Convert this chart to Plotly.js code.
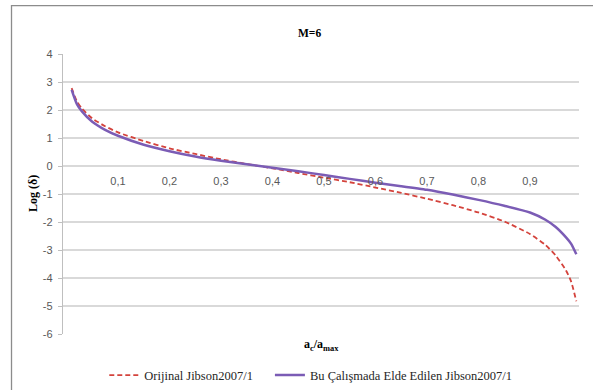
<!DOCTYPE html>
<html>
<head>
<meta charset="utf-8">
<script src="https://cdn.plot.ly/plotly-3.0.1.min.js"></script>
<style>
  html, body { margin: 0; padding: 0; background: #fff; }
  #chart { width: 593px; height: 390px; }
</style>
</head>
<body>
<div id="chart"></div>
<script>
// ac/amax ratios
const ratio = [0.01, 0.02, 0.03, 0.05, 0.075, 0.1, 0.15, 0.2, 0.25, 0.3, 0.35, 0.4, 0.45,
               0.5, 0.55, 0.6, 0.65, 0.7, 0.75, 0.8, 0.85, 0.9, 0.93, 0.95, 0.97, 0.98, 0.99];

// Log(δ) – original Jibson (2007) model 1, M=6
const logOriginal = [2.78, 2.32, 2.05, 1.70, 1.42, 1.20, 0.89, 0.63, 0.43, 0.24, 0.07, -0.08, -0.25,
                     -0.42, -0.58, -0.77, -0.96, -1.17, -1.40, -1.66, -1.98, -2.43, -2.82, -3.20, -3.73, -4.13, -4.83];

// Log(δ) – values obtained in this study
const logThisStudy = [2.72, 2.22, 1.95, 1.58, 1.29, 1.08, 0.76, 0.53, 0.34, 0.19, 0.06, -0.06, -0.19,
                      -0.32, -0.46, -0.60, -0.72, -0.85, -1.02, -1.21, -1.42, -1.66, -1.92, -2.18, -2.55, -2.78, -3.15];

const xTickVals = [0.1, 0.2, 0.3, 0.4, 0.5, 0.6, 0.7, 0.8, 0.9];
const xTickText = ['0,1', '0,2', '0,3', '0,4', '0,5', '0,6', '0,7', '0,8', '0,9'];
const yTickVals = [-6, -5, -4, -3, -2, -1, 0, 1, 2, 3, 4];
const yTickText = ['-6', '-5', '-4', '-3', '-2', '-1', '0', '1', '2', '3', '4'];

const serif = 'Liberation Serif, Times New Roman, serif';
const sans = 'Liberation Sans, Arial, sans-serif';
const legendFont = { family: serif, size: 12.5, color: '#262626' };

const traces = [
  {
    x: ratio, y: logOriginal, type: 'scatter', mode: 'lines',
    name: 'Orijinal Jibson2007/1', legend: 'legend',
    line: { color: '#D4433C', width: 1.8, dash: '5px,3px', shape: 'spline', smoothing: 0.6 }
  },
  {
    x: ratio, y: logThisStudy, type: 'scatter', mode: 'lines',
    name: 'Bu Çalışmada Elde Edilen Jibson2007/1', legend: 'legend2',
    line: { color: '#7B5CB5', width: 2.5, shape: 'spline', smoothing: 0.6 }
  }
];

const layout = {
  width: 593, height: 390,
  margin: { l: 63, r: 14, t: 54, b: 56, autoexpand: false },
  paper_bgcolor: '#fff', plot_bgcolor: '#fff',
  showlegend: true,
  legend: {
    orientation: 'h', x: 0.08, y: -0.148, xanchor: 'left', yanchor: 'middle',
    font: legendFont, itemwidth: 30
  },
  legend2: {
    orientation: 'h', x: 0.401, y: -0.148, xanchor: 'left', yanchor: 'middle',
    font: legendFont, itemwidth: 30
  },
  xaxis: {
    range: [-0.0068, 0.9952],
    anchor: 'free', position: 0.5964,
    tickvals: xTickVals, ticktext: xTickText,
    showgrid: false, zeroline: false, showline: false, ticks: '',
    tickfont: { family: sans, size: 11, color: '#595959' },
    ticklabelstandoff: 6
  },
  yaxis: {
    range: [-6, 4], tickvals: yTickVals, ticktext: yTickText,
    showgrid: true, gridcolor: '#d9d9d9', gridwidth: 1.3,
    zeroline: false,
    showline: true, linecolor: '#bfbfbf', linewidth: 1.3,
    ticks: 'outside', ticklen: 4, tickcolor: '#bfbfbf',
    tickfont: { family: sans, size: 11, color: '#595959' },
    ticklabelstandoff: 3
  },
  annotations: [
    { text: '<b>M=6</b>', xref: 'paper', yref: 'paper', x: 0.477, y: 1.075,
      xanchor: 'center', yanchor: 'middle',
      showarrow: false, font: { family: serif, size: 11.5, color: '#000' } },
    { text: '<b>a<sub>c</sub>/a<sub>max</sub></b>', xref: 'paper', yref: 'paper', x: 0.5, y: -0.04,
      xanchor: 'center', yanchor: 'middle',
      showarrow: false, font: { family: serif, size: 12, color: '#000' } },
    { text: '<b>Log (δ)</b>', xref: 'paper', yref: 'paper', x: -0.058, y: 0.5, textangle: -90,
      xanchor: 'center', yanchor: 'middle',
      showarrow: false, font: { family: serif, size: 12, color: '#000' } }
  ],
  shapes: [
    { type: 'rect', xref: 'paper', yref: 'paper', x0: -0.0998, x1: 1.2, y0: -0.4, y1: 1.173,
      line: { color: '#8c8c8c', width: 1.3 }, fillcolor: 'rgba(0,0,0,0)', layer: 'below' }
  ]
};

Plotly.newPlot('chart', traces, layout, { displayModeBar: false, staticPlot: true });
</script>
</body>
</html>
